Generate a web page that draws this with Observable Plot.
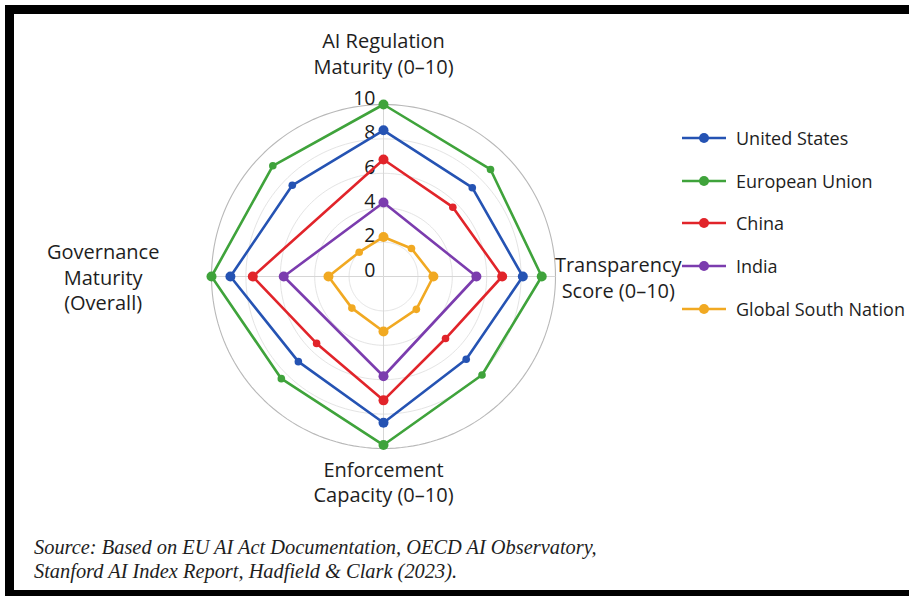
<!DOCTYPE html>
<html>
<head>
<meta charset="utf-8">
<script src="https://cdn.jsdelivr.net/npm/d3@7"></script>
<script src="https://cdn.jsdelivr.net/npm/@observablehq/plot@0.6"></script>
<style>
  html, body { margin: 0; padding: 0; background: #fff; overflow: hidden; }
  #page { position: relative; width: 909px; height: 596px; overflow: hidden; background: #fff; font-family: "Open Sans", sans-serif; color: #1e1e1e; }
  #frame { position: absolute; left: 5px; top: 5px; width: 940px; height: 576px; border-top: 9px solid #000; border-left: 9px solid #000; border-bottom: 9px solid #000; }
  #chart { position: absolute; left: 0; top: 0; }
  #legend { position: absolute; left: 682px; top: 0; }
  .item { position: absolute; left: 0; height: 24px; display: flex; align-items: center; white-space: nowrap; font-size: 18px; }
  .item svg { margin-right: 10px; }
  #caption { position: absolute; left: 34px; top: 535px; font-family: "Liberation Serif", serif; font-style: italic; font-size: 20.4px; line-height: 24px; color: #1e1e1e; white-space: nowrap; }
</style>
</head>
<body>
<div id="page">
  <div id="frame"></div>
  <div id="chart"></div>
  <div id="legend"></div>
  <div id="caption">Source: Based on EU AI Act Documentation, OECD AI Observatory,<br>Stanford AI Index Report, Hadfield &amp; Clark (2023).</div>
</div>
<script>
// Series shown in the radar, in legend order
const series = ["United States", "European Union", "China", "India", "Global South Nation"];
const colors = ["#2553b3", "#3fa33b", "#e1242a", "#7b3cae", "#f1a922"];

// Eight spokes, clockwise from the top; the labelled ones are every other spoke
const spokeAngles = [180, 135, 90, 45, 0, -45, -90, -135];

// Scores (0–10) per spoke, clockwise from "AI Regulation Maturity"; null = no point on that spoke
const usValues     = [8.5, 7.3, 8.1, 6.8, 8.5, 7.0, 8.9, 7.5];
const euValues     = [10, 8.8, 9.2, 8.1, 9.8, 8.4, 10, 9.1];
const chinaValues  = [6.8, 5.7, 6.9, 5.1, 7.2, 5.5, 7.6, null];
const indiaValues  = [4.3, null, 5.4, null, 5.8, null, 5.8, null];
const southValues  = [2.3, 2.3, 2.9, 2.7, 3.2, 2.6, 3.2, 2.0];
const seriesValues = [usValues, euValues, chinaValues, indiaValues, southValues];

// Axis titles on the four labelled spokes, with their distance from the centre
const axisTitles = ["AI Regulation\nMaturity (0–10)", "Transparency\nScore (0–10)", "Enforcement\nCapacity (0–10)", "Governance\nMaturity\n(Overall)"];
const axisTitleAngles = [180, 90, 0, -90];
const axisTitleRadius = [13.0, 13.65, 11.9, 16.3];

// Ring values and their tick labels
const rings = [2, 4, 6, 8, 10];
const ringTicks = [0, 2, 4, 6, 8, 10];

const rows = [];
series.forEach((name, s) => {
  seriesValues[s].forEach((v, i) => {
    if (v != null) rows.push({series: name, lon: spokeAngles[i], value: v, main: i % 2 === 0});
  });
});
const titles = axisTitles.map((label, i) => ({label, lon: axisTitleAngles[i], r: axisTitleRadius[i]}));

const circle = (r) => d3.geoCircle().center([0, 90]).radius(r)();

const chart = Plot.plot({
  width: 909,
  height: 596,
  marginLeft: 211,
  marginRight: 354,
  marginTop: 104,
  marginBottom: 148,
  style: {background: "transparent", overflow: "visible", fontFamily: "Open Sans, sans-serif", color: "#1e1e1e"},
  projection: {
    type: "azimuthal-equidistant",
    rotate: [0, -90],
    domain: circle(10),
    clip: false
  },
  color: {domain: series, range: colors},
  marks: [
    // faint inner rings and the outer ring
    Plot.geo(rings.filter((r) => r < 10), {geometry: circle, fill: "none", stroke: "#e4e4e4", strokeWidth: 1}),
    Plot.geo([10], {geometry: circle, fill: "none", stroke: "#b8b8b8", strokeWidth: 1.1}),
    // spokes through the four labelled axes
    Plot.link(axisTitleAngles, {x1: (d) => d, y1: 80, x2: (d) => d, y2: 90, stroke: "#d6d6d6", strokeWidth: 1}),
    // ring tick labels along the top spoke
    Plot.text(ringTicks, {x: 180, y: (d) => 90 - d, text: (d) => String(d), textAnchor: "end", dx: -8, dy: -6, fontSize: 19.5, fill: "#1a1a1a"}),
    // series outlines
    Plot.line(rows, {x: "lon", y: (d) => 90 - d.value, z: "series", stroke: "series", strokeWidth: 2.6, curve: "linear-closed"}),
    // points: larger on labelled spokes, smaller between them
    Plot.dot(rows.filter((d) => d.main), {x: "lon", y: (d) => 90 - d.value, fill: "series", r: 5}),
    Plot.dot(rows.filter((d) => !d.main), {x: "lon", y: (d) => 90 - d.value, fill: "series", r: 3.8}),
    // axis titles
    Plot.text(titles, {x: "lon", y: (d) => 90 - d.r, text: "label", textAnchor: "middle", lineAnchor: "middle", lineHeight: 1.28, fontSize: 20, fill: "#1e1e1e"})
  ]
});
document.getElementById("chart").append(chart);

// Legend: one swatch (line with a point) per series
const legend = d3.select("#legend");
const legendTops = [126, 169, 211, 254, 297];
series.forEach((name, i) => {
  const item = legend.append("div").attr("class", "item").style("top", legendTops[i] + "px");
  const sw = item.append("svg").attr("width", 44).attr("height", 12);
  sw.append("line").attr("x1", 0).attr("x2", 44).attr("y1", 6).attr("y2", 6).attr("stroke", colors[i]).attr("stroke-width", 2.6);
  sw.append("circle").attr("cx", 22).attr("cy", 6).attr("r", 5).attr("fill", colors[i]);
  item.append("span").text(name);
});
</script>
</body>
</html>
